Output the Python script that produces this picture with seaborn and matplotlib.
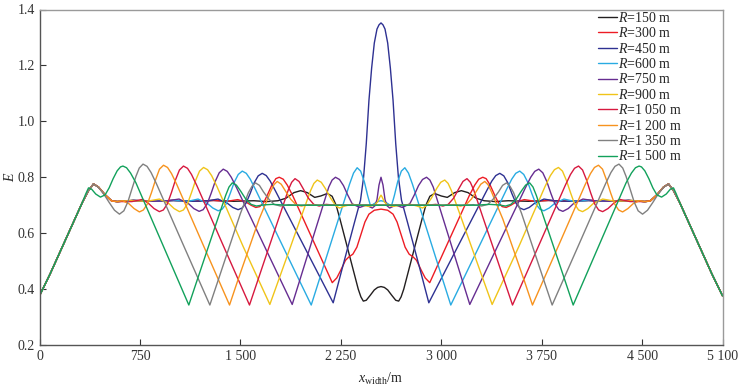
import matplotlib
matplotlib.use("Agg")
import matplotlib.pyplot as plt
import pandas as pd
import seaborn as sns

# E against panel width; every curve is symmetric about x = 2550 m,
# so only the left half (0 .. 2550 m) is listed and mirrored below
radii = [150, 300, 450, 600, 750, 900, 1050, 1200, 1350, 1500]
colors = ["#231f20", "#ed1c24", "#2e3192", "#29abe2", "#662d91",
          "#f0c419", "#d7193f", "#f7931e", "#808080", "#12a15b"]

x_ticks = [0, 750, 1500, 2250, 3000, 3750, 4500, 5100]
x_tick_labels = ["0", "750", "1 500", "2 250", "3 000", "3 750", "4 500", "5 100"]
y_ticks = [0.2, 0.4, 0.6, 0.8, 1.0, 1.2, 1.4]

rise = [(0, 0.376), (80, 0.455), (160, 0.54), (240, 0.625), (320, 0.71)]
crest = [(366, 0.752), (403, 0.776), (440, 0.765), (490, 0.737), (540, 0.715)]

r150 = rise + crest + [
    (580, 0.713), (700, 0.717), (850, 0.714), (1000, 0.717), (1150, 0.714),
    (1300, 0.717), (1450, 0.714), (1600, 0.716), (1700, 0.713), (1780, 0.716),
    (1840, 0.725), (1900, 0.745), (1950, 0.752), (2000, 0.745), (2055, 0.728),
    (2100, 0.733), (2150, 0.742), (2185, 0.732), (2215, 0.70), (2245, 0.648),
    (2380, 0.40), (2400, 0.372), (2418, 0.357), (2440, 0.36), (2470, 0.378),
    (2500, 0.397), (2525, 0.406), (2550, 0.409)]

r300 = rise + crest + [
    (580, 0.713), (700, 0.717), (850, 0.714), (1000, 0.717), (1150, 0.714),
    (1300, 0.717), (1400, 0.714), (1480, 0.72), (1540, 0.712), (1580, 0.70),
    (1615, 0.692), (1645, 0.695), (1675, 0.71), (1705, 0.74), (1735, 0.772),
    (1765, 0.795), (1790, 0.80), (1820, 0.793), (1850, 0.772), (1890, 0.735),
    (2040, 0.577), (2186, 0.423), (2220, 0.44), (2250, 0.468), (2285, 0.503),
    (2310, 0.515), (2340, 0.525), (2370, 0.55), (2400, 0.595), (2430, 0.64),
    (2460, 0.668), (2500, 0.682), (2550, 0.686)]

r450 = rise + crest + [
    (580, 0.713), (700, 0.717), (850, 0.714), (1000, 0.717), (1150, 0.714),
    (1260, 0.716), (1333, 0.722), (1403, 0.707), (1443, 0.692), (1483, 0.684),
    (1513, 0.69), (1543, 0.708), (1573, 0.742), (1603, 0.78), (1633, 0.805),
    (1663, 0.814), (1693, 0.806), (1723, 0.786), (1763, 0.75), (1980, 0.549),
    (2193, 0.351), (2250, 0.455), (2300, 0.545), (2350, 0.635), (2397, 0.718),
    (2420, 0.80), (2440, 0.92), (2460, 1.075), (2480, 1.19), (2500, 1.28),
    (2520, 1.33), (2535, 1.345), (2550, 1.352)]

r600 = rise + crest + [
    (580, 0.713), (700, 0.717), (850, 0.714), (1000, 0.717), (1110, 0.714),
    (1184, 0.722), (1254, 0.706), (1294, 0.69), (1334, 0.68), (1364, 0.686),
    (1394, 0.705), (1424, 0.742), (1454, 0.782), (1484, 0.81), (1514, 0.822),
    (1544, 0.814), (1574, 0.793), (1614, 0.755), (1820, 0.55), (2029, 0.343),
    (2090, 0.435), (2170, 0.556), (2250, 0.677), (2315, 0.775), (2345, 0.815),
    (2372, 0.834), (2398, 0.822), (2425, 0.785), (2450, 0.735), (2472, 0.697),
    (2500, 0.706), (2530, 0.714), (2550, 0.716)]

r750 = rise + crest + [
    (580, 0.713), (700, 0.717), (850, 0.714), (960, 0.716), (1042, 0.722),
    (1112, 0.706), (1152, 0.688), (1192, 0.678), (1222, 0.684), (1252, 0.705),
    (1282, 0.743), (1312, 0.785), (1342, 0.816), (1372, 0.829), (1402, 0.821),
    (1432, 0.80), (1472, 0.762), (1680, 0.553), (1887, 0.345), (1945, 0.434),
    (2020, 0.55), (2100, 0.673), (2160, 0.765), (2185, 0.79), (2210, 0.80),
    (2240, 0.792), (2270, 0.77), (2300, 0.738), (2335, 0.705), (2390, 0.692),
    (2440, 0.70), (2485, 0.69), (2505, 0.698), (2520, 0.72), (2535, 0.772),
    (2550, 0.80)]

r900 = rise + crest + [
    (580, 0.713), (680, 0.717), (800, 0.714), (895, 0.722), (965, 0.706),
    (1005, 0.688), (1045, 0.677), (1075, 0.683), (1105, 0.705), (1135, 0.745),
    (1165, 0.788), (1195, 0.822), (1225, 0.835), (1255, 0.827), (1285, 0.806),
    (1325, 0.767), (1520, 0.553), (1720, 0.345), (1780, 0.425), (1860, 0.532),
    (1940, 0.64), (2024, 0.752), (2049, 0.778), (2074, 0.79), (2104, 0.782),
    (2134, 0.76), (2174, 0.725), (2214, 0.697), (2240, 0.69), (2280, 0.697),
    (2330, 0.703), (2400, 0.70), (2460, 0.696), (2500, 0.70), (2525, 0.712),
    (2540, 0.728), (2550, 0.736)]

r1050 = rise + crest + [
    (580, 0.713), (690, 0.713), (770, 0.721), (815, 0.706), (855, 0.688),
    (895, 0.677), (925, 0.683), (955, 0.705), (985, 0.745), (1015, 0.79),
    (1045, 0.826), (1075, 0.84), (1105, 0.832), (1135, 0.81), (1175, 0.77),
    (1370, 0.558), (1568, 0.343), (1630, 0.431), (1710, 0.545), (1790, 0.658),
    (1858, 0.755), (1883, 0.782), (1908, 0.795), (1938, 0.785), (1968, 0.76),
    (2008, 0.725), (2048, 0.703), (2088, 0.697), (2140, 0.703), (2210, 0.70),
    (2550, 0.70)]

r1200 = rise + crest + [
    (580, 0.713), (620, 0.716), (666, 0.706), (706, 0.688), (746, 0.676),
    (776, 0.683), (806, 0.705), (836, 0.745), (866, 0.79), (896, 0.829),
    (926, 0.843), (956, 0.835), (986, 0.813), (1026, 0.773), (1222, 0.558),
    (1419, 0.343), (1480, 0.43), (1560, 0.54), (1640, 0.65), (1725, 0.748),
    (1750, 0.773), (1775, 0.785), (1805, 0.775), (1835, 0.752), (1875, 0.722),
    (1915, 0.702), (1955, 0.697), (2005, 0.702), (2075, 0.70), (2550, 0.70)]

r1350 = rise + [
    (366, 0.752), (403, 0.776), (440, 0.764), (480, 0.74), (520, 0.71),
    (560, 0.682), (597, 0.668), (630, 0.68), (660, 0.712), (690, 0.758),
    (720, 0.803), (745, 0.833), (773, 0.847), (803, 0.839), (833, 0.817),
    (873, 0.777), (1070, 0.562), (1272, 0.343), (1340, 0.44), (1420, 0.555),
    (1500, 0.67), (1560, 0.745), (1587, 0.768), (1612, 0.78), (1642, 0.771),
    (1672, 0.748), (1712, 0.722), (1752, 0.703), (1800, 0.697), (1860, 0.702),
    (1940, 0.70), (2550, 0.70)]

r1500 = rise + [
    (345, 0.74), (366, 0.762), (390, 0.757), (420, 0.74), (455, 0.729),
    (490, 0.737), (520, 0.762), (550, 0.795), (580, 0.823), (605, 0.837),
    (623, 0.84), (650, 0.834), (680, 0.815), (720, 0.78), (900, 0.581),
    (1115, 0.343), (1180, 0.436), (1260, 0.55), (1340, 0.664), (1390, 0.735),
    (1415, 0.765), (1440, 0.78), (1470, 0.772), (1500, 0.752), (1540, 0.722),
    (1580, 0.703), (1620, 0.697), (1670, 0.701), (1740, 0.703), (1850, 0.70),
    (2550, 0.70)]

halves = [r150, r300, r450, r600, r750, r900, r1050, r1200, r1350, r1500]


def label(r):
    s = f"{r:,}".replace(",", " ")
    return f"$R$={s} m"


rows = []
for r, half in zip(radii, halves):
    pts = half + [(5100 - x, e) for x, e in reversed(half[:-1])]
    for x, e in pts:
        rows.append({"x": x, "E": e, "R": label(r)})
df = pd.DataFrame(rows)

sns.set_style("ticks")
plt.rcParams["font.family"] = ["Liberation Serif", "DejaVu Serif"]
plt.rcParams["mathtext.fontset"] = "custom"
plt.rcParams["mathtext.rm"] = "Liberation Serif"
plt.rcParams["mathtext.it"] = "Liberation Serif:italic"

fig = plt.figure(figsize=(7.43, 3.89), dpi=100)
ax = fig.add_axes([39.5 / 743, 1 - 345 / 389, 683 / 743, 335.5 / 389])

labels = [label(r) for r in radii]
sns.lineplot(data=df, x="x", y="E", hue="R", hue_order=labels,
             palette=colors, estimator=None, sort=False, units="R",
             linewidth=1.0, ax=ax)

ax.set_xlim(0, 5100)
ax.set_ylim(0.2, 1.4)
ax.set_xticks(x_ticks)
ax.set_xticklabels(x_tick_labels)
ax.set_yticks(y_ticks)
ax.set_yticklabels([f"{v:.1f}" for v in y_ticks])
ax.tick_params(direction="in", length=4, width=0.8, labelsize=10,
               colors="#333333", top=False, right=False)
for name, sp in ax.spines.items():
    sp.set_linewidth(1.0)
    sp.set_color("#555555" if name in ("left", "bottom") else "#9a9a9a")

ax.set_xlabel(r"$x_{\mathrm{width}}$/m", fontsize=10, labelpad=6)
ax.set_ylabel(r"$E$", fontsize=10, labelpad=0)

ax.legend(loc="upper left", bbox_to_anchor=(0.8157, 1.0), frameon=False,
          fontsize=10, handlelength=1.35, handletextpad=0.1,
          labelspacing=0.1, borderaxespad=0.0, borderpad=0.1)

fig.savefig("out.png", dpi=100)
